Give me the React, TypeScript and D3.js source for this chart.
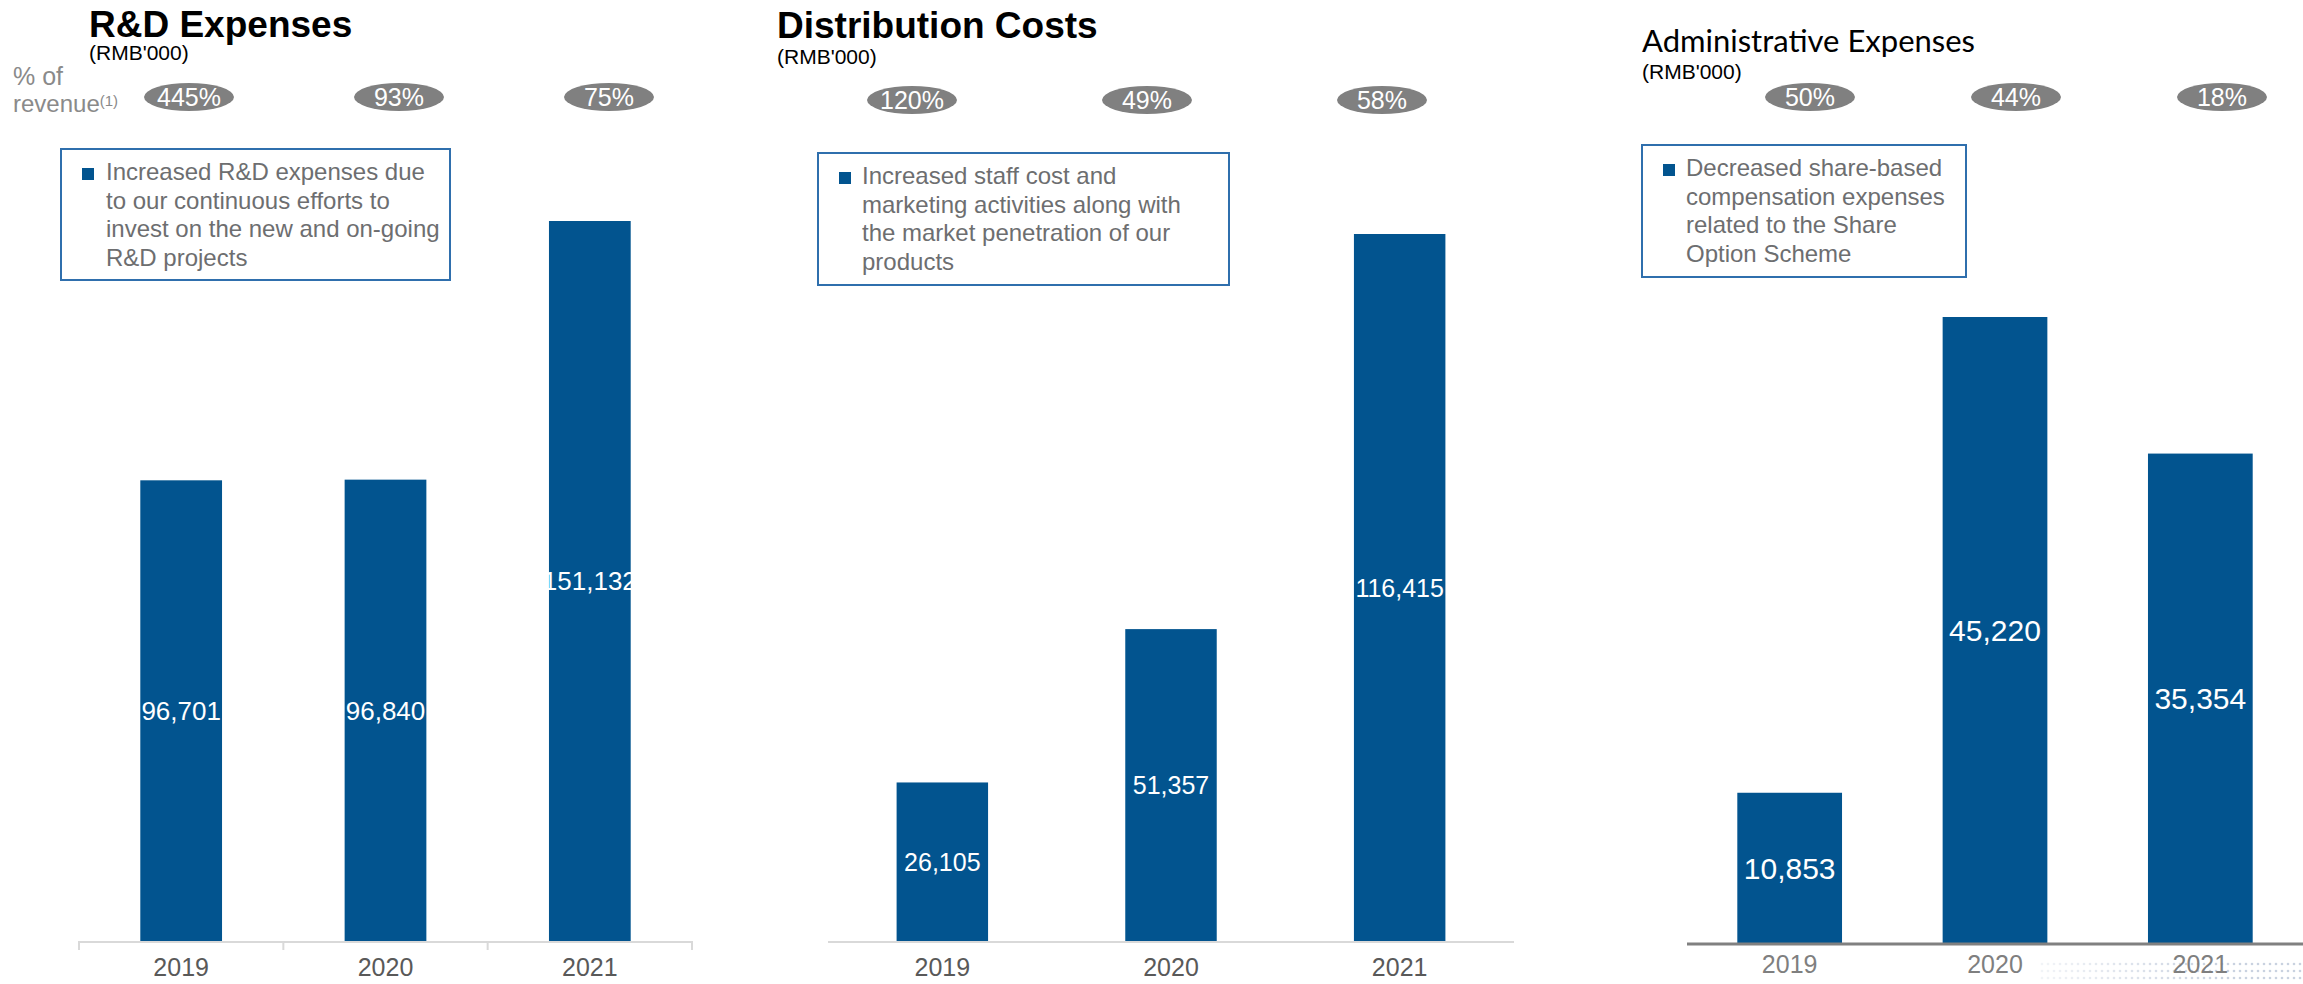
import React from 'react';
import * as d3 from 'd3';

const years = ['2019', '2020', '2021'];

const rdValues = [96701, 96840, 151132];
const rdPct = ['445%', '93%', '75%'];
const rdNote = [
  'Increased R&D expenses due',
  'to our continuous efforts to',
  'invest on the new and on-going',
  'R&D projects',
];

const distValues = [26105, 51357, 116415];
const distPct = ['120%', '49%', '58%'];
const distNote = [
  'Increased staff cost and',
  'marketing activities along with',
  'the market penetration of our',
  'products',
];

const adminValues = [10853, 45220, 35354];
const adminPct = ['50%', '44%', '18%'];
const adminNote = [
  'Decreased share-based',
  'compensation expenses',
  'related to the Share',
  'Option Scheme',
];

const BAR = '#02548f';
const ARIAL = 'Arial, "Liberation Sans", Helvetica, sans-serif';
const fmt = d3.format(',');

type Panel = {
  title: string;
  titleFont: string;
  titleWeight: number;
  titleSize: number;
  titleX: number;
  titleY: number;
  unitY: number;
  values: number[];
  pct: string[];
  note: string[];
  xRange: [number, number];
  padInner: number;
  baseline: number;
  top: number;
  pillRange: [number, number];
  pillY: number;
  box: { x: number; y: number; w: number; h: number; textX: number; line0: number };
  labelSize: number;
  axisColor: string;
  axisWidth: number;
  ticks: boolean;
  yearColor: string;
  yearY: number;
};

const panels: Panel[] = [
  {
    title: 'R&D Expenses', titleFont: ARIAL, titleWeight: 700, titleSize: 37, titleX: 89, titleY: 37, unitY: 60,
    values: rdValues, pct: rdPct, note: rdNote,
    xRange: [79, 692], padInner: 0.6, baseline: 941, top: 221,
    pillRange: [189, 609], pillY: 97,
    box: { x: 61, y: 149, w: 389, h: 131, textX: 106, line0: 180 },
    labelSize: 26, axisColor: '#d9d9d9', axisWidth: 2, ticks: true, yearColor: '#595959', yearY: 976,
  },
  {
    title: 'Distribution Costs', titleFont: ARIAL, titleWeight: 700, titleSize: 37, titleX: 777, titleY: 38, unitY: 64,
    values: distValues, pct: distPct, note: distNote,
    xRange: [828, 1514], padInner: 0.6, baseline: 941, top: 234,
    pillRange: [912, 1382], pillY: 100,
    box: { x: 818, y: 153, w: 411, h: 132, textX: 862, line0: 184 },
    labelSize: 25, axisColor: '#d9d9d9', axisWidth: 2, ticks: false, yearColor: '#595959', yearY: 976,
  },
  {
    title: 'Administrative Expenses', titleFont: 'Lato, "Open Sans", sans-serif', titleWeight: 400, titleSize: 31, titleX: 1642, titleY: 52, unitY: 79,
    values: adminValues, pct: adminPct, note: adminNote,
    xRange: [1687, 2303], padInner: 0.49, baseline: 943, top: 317,
    pillRange: [1810, 2222], pillY: 97,
    box: { x: 1642, y: 145, w: 324, h: 132, textX: 1686, line0: 176 },
    labelSize: 30, axisColor: '#808080', axisWidth: 3, ticks: false, yearColor: '#7f7f7f', yearY: 973,
  },
];

function PanelView({ p }: { p: Panel }) {
  const x = d3.scaleBand<string>().domain(years).range(p.xRange).paddingInner(p.padInner).paddingOuter(p.padInner / 2);
  const maxV = d3.max(p.values) as number;
  const y = d3.scaleLinear().domain([0, maxV]).range([p.baseline, p.top]);
  const pill = d3.scalePoint<string>().domain(years).range(p.pillRange);
  const lineH = 28.7;
  const boundaries = [...years.map((yr) => (x(yr) as number) - (x.step() * p.padInner) / 2), p.xRange[1]];
  return (
    <g>
      <text x={p.titleX} y={p.titleY} fontFamily={p.titleFont} fontWeight={p.titleWeight} fontSize={p.titleSize} fill="#000">
        {p.title}
      </text>
      <text x={p.titleX} y={p.unitY} fontFamily={ARIAL} fontSize={21} fill="#000">(RMB'000)</text>

      {years.map((yr, i) => (
        <g key={'pill' + yr}>
          <ellipse cx={pill(yr)} cy={p.pillY} rx={45} ry={14} fill="#808080" />
          <text x={pill(yr)} y={p.pillY + 9} textAnchor="middle" fontFamily={ARIAL} fontSize={25} fill="#fff">
            {p.pct[i]}
          </text>
        </g>
      ))}

      <rect x={p.box.x} y={p.box.y} width={p.box.w} height={p.box.h} fill="#fff" stroke="#2f6fad" strokeWidth={2} />
      <rect x={p.box.x + 21} y={p.box.line0 - 12} width={12} height={12} fill={BAR} />
      {p.note.map((ln, i) => (
        <text key={'n' + i} x={p.box.textX} y={p.box.line0 + i * lineH} fontFamily={ARIAL} fontSize={24} fill="#6d6e70">
          {ln}
        </text>
      ))}

      {years.map((yr, i) => {
        const bx = x(yr) as number;
        const top = y(p.values[i]);
        const mid = (top + p.baseline) / 2;
        return (
          <g key={'bar' + yr}>
            <rect x={bx} y={top} width={x.bandwidth()} height={p.baseline - top} fill={BAR} />
            <text x={bx + x.bandwidth() / 2} y={mid + p.labelSize * 0.36} textAnchor="middle" fontFamily={ARIAL} fontSize={p.labelSize} fill="#fff">
              {fmt(p.values[i])}
            </text>
          </g>
        );
      })}

      <line x1={p.xRange[0]} x2={p.xRange[1]} y1={p.baseline + 1} y2={p.baseline + 1} stroke={p.axisColor} strokeWidth={p.axisWidth} />
      {p.ticks &&
        boundaries.map((bx, i) => (
          <line key={'t' + i} x1={bx} x2={bx} y1={p.baseline} y2={p.baseline + 9} stroke={p.axisColor} strokeWidth={2} />
        ))}
      {years.map((yr) => (
        <text key={'yr' + yr} x={(x(yr) as number) + x.bandwidth() / 2} y={p.yearY} textAnchor="middle" fontFamily={ARIAL} fontSize={25} fill={p.yearColor}>
          {yr}
        </text>
      ))}
    </g>
  );
}

export default function App() {
  const dots: React.ReactElement[] = [];
  for (let r = 0; r < 3; r++) {
    for (let c = 0; c < 44; c++) {
      const cx = 2042 + c * 6;
      const op = Math.min(1, 0.25 + c / 40);
      dots.push(<circle key={r + '-' + c} cx={cx} cy={964 + r * 7} r={1.3} fill="#c9d2e0" opacity={op} />);
    }
  }
  return (
    <svg width={2303} height={984} style={{ position: 'absolute', left: 0, top: 0, background: '#fff' }}>
      <rect x={0} y={0} width={2303} height={984} fill="#fff" />
      {dots}
      <text x={13} y={85} fontFamily={ARIAL} fontSize={25} fill="#8a8a8a">% of</text>
      <text x={13} y={112} fontFamily={ARIAL} fontSize={24} fill="#8a8a8a">
        revenue<tspan fontSize={15} dy={-6}>(1)</tspan>
      </text>
      {panels.map((p) => (
        <PanelView key={p.title} p={p} />
      ))}
    </svg>
  );
}
